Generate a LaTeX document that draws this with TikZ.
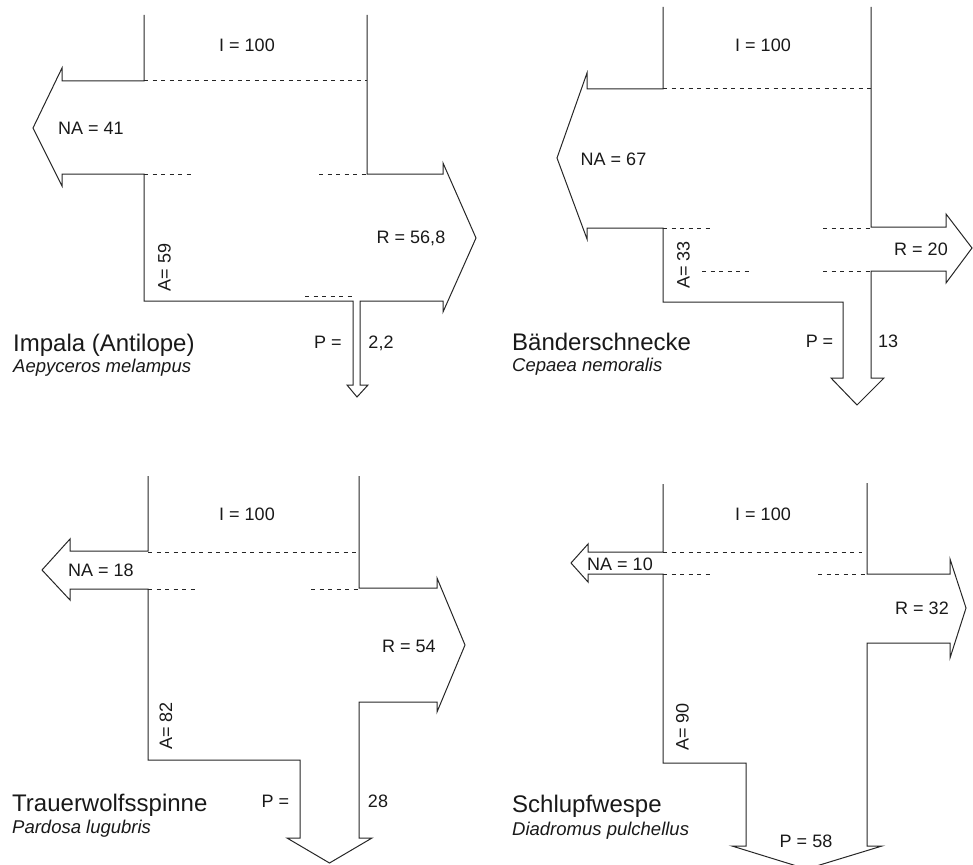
\documentclass[tikz,border=0pt]{standalone}
\usepackage{fontspec}
\setmainfont{Liberation Sans}
\begin{document}
\begin{tikzpicture}[x=1pt,y=-1pt,
  flow/.style={draw=black!85,line width=1pt,line join=miter},
  dsh/.style={draw=black!85,line width=1pt,dash pattern=on 4pt off 4.5pt},
  lbl/.style={inner sep=0pt,anchor=base,text=black!90,font=\fontsize{18}{20}\selectfont},
  rlbl/.style={inner sep=0pt,anchor=center,rotate=90,text=black!90,font=\fontsize{18}{20}\selectfont},
  ttl/.style={inner sep=0pt,anchor=base west,text=black!90,font=\fontsize{24}{26}\selectfont},
  spc/.style={inner sep=0pt,anchor=base west,text=black!90,font=\fontsize{18.5}{20}\selectfont\itshape}]
\useasboundingbox (0,0) rectangle (973,864);

% ---------- Panel 1: Impala ----------
\draw[flow] (144,15) -- (144,81) -- (62,81) -- (62,68) -- (33,128) -- (62,186) -- (62,174) -- (144,174)
  -- (144,301) -- (353,301) -- (353,385) -- (347,385) -- (357,397) -- (368,385) -- (360,385) -- (360,301)
  -- (443,301) -- (443,312) -- (476,238) -- (443,163) -- (443,174) -- (367,174) -- (367,15);
\draw[dsh] (144,81) -- (367,81);
\draw[dsh] (144,174) -- (193,174);
\draw[dsh] (319,174) -- (367,174);
\draw[dsh] (305,296) -- (353,296);
\node[lbl] (i1) at (247,51.5) {I = 100};
\node[lbl] (na1) at (91,134.5) {NA = 41};
\node[lbl] (r1) at (411,243.5) {R = 56,8};
\node[rlbl] (a1) at (164.5,267.5) {A= 59};
\node[lbl] (p1) at (328,348) {P =};
\node[lbl] (pv1) at (381,348) {2,2};
\node[ttl] (t1) at (13,351) {Impala (Antilope)};
\node[spc] (s1) at (13,372) {Aepyceros melampus};

% ---------- Panel 2: Baenderschnecke ----------
\draw[flow] (663,7) -- (663,89) -- (587,89) -- (587,73) -- (557,158) -- (587,239) -- (587,228) -- (663,228)
  -- (663,302) -- (843,302) -- (843,378) -- (831,378) -- (857,405) -- (884,378) -- (871,378) -- (871,271)
  -- (946,271) -- (946,283) -- (972,248) -- (946,214) -- (946,227) -- (871,227) -- (871,7);
\draw[dsh] (663,89) -- (871,89);
\draw[dsh] (663,228) -- (712,228);
\draw[dsh] (823,228) -- (871,228);
\draw[dsh] (702,271) -- (749,271);
\draw[dsh] (823,271) -- (871,271);
\node[lbl] (i2) at (763,51.5) {I = 100};
\node[lbl] (na2) at (613.5,165.5) {NA = 67};
\node[lbl] (r2) at (921,255) {R = 20};
\node[rlbl] (a2) at (683.5,265) {A= 33};
\node[lbl] (p2) at (819.5,347) {P =};
\node[lbl] (pv2) at (888,347) {13};
\node[ttl] (t2) at (512,350) {Bänderschnecke};
\node[spc] (s2) at (512,371) {Cepaea nemoralis};

% ---------- Panel 3: Trauerwolfsspinne ----------
\draw[flow] (148,476) -- (148,551) -- (70,551) -- (70,539) -- (42,570) -- (70,600) -- (70,589) -- (148,589)
  -- (148,760) -- (300,760) -- (300,838) -- (287,838) -- (329.5,863) -- (372,838) -- (359,838) -- (359,702)
  -- (437,702) -- (437,712) -- (465,645) -- (437,578) -- (437,588) -- (359,588) -- (359,476);
\draw[dsh] (148,552) -- (359,552);
\draw[dsh] (148,589) -- (197,589);
\draw[dsh] (311,589) -- (359,589);
\node[lbl] (i3) at (247,520) {I = 100};
\node[lbl] (na3) at (101,576) {NA = 18};
\node[lbl] (r3) at (409,652) {R = 54};
\node[rlbl] (a3) at (166,726) {A= 82};
\node[lbl] (p3) at (275.5,807) {P =};
\node[lbl] (pv3) at (378,807) {28};
\node[ttl] (t3) at (12,811) {Trauerwolfsspinne};
\node[spc] (s3) at (12,833) {Pardosa lugubris};

% ---------- Panel 4: Schlupfwespe ----------
\draw[flow] (663,484) -- (663,552) -- (588,552) -- (588,544) -- (571,563) -- (588,582) -- (588,574) -- (663,574)
  -- (663,763) -- (746,763) -- (746,846) -- (732,846) -- (806.5,869) -- (882,846) -- (867,846) -- (867,643)
  -- (950,643) -- (950,658) -- (966,608) -- (950,559) -- (950,574) -- (867,574) -- (867,483);
\draw[dsh] (663,552) -- (862,552);
\draw[dsh] (663,574) -- (711,574);
\draw[dsh] (818,574) -- (867,574);
\node[lbl] (i4) at (763,520) {I = 100};
\node[lbl] (na4) at (620,570) {NA = 10};
\node[lbl] (r4) at (922,614) {R = 32};
\node[rlbl] (a4) at (682.5,727) {A= 90};
\node[lbl] (p4) at (806,847) {P = 58};
\node[ttl] (t4) at (512,812) {Schlupfwespe};
\node[spc] (s4) at (512,835) {Diadromus pulchellus};
\end{tikzpicture}
\end{document}
